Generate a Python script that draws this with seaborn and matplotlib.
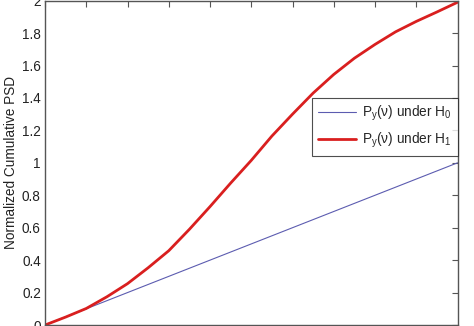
import numpy as np
import pandas as pd
import matplotlib
matplotlib.use("Agg")
import matplotlib.pyplot as plt
import seaborn as sns

# ---- data ----
freq = [0.00, 0.05, 0.10, 0.15, 0.20, 0.25, 0.30, 0.35, 0.40, 0.45, 0.50,
        0.55, 0.60, 0.65, 0.70, 0.75, 0.80, 0.85, 0.90, 0.95, 1.00]
psd_h0 = [0.00, 0.05, 0.10, 0.15, 0.20, 0.25, 0.30, 0.35, 0.40, 0.45, 0.50,
          0.55, 0.60, 0.65, 0.70, 0.75, 0.80, 0.85, 0.90, 0.95, 1.00]
psd_h1 = [0.00, 0.049, 0.102, 0.174, 0.255, 0.353, 0.458, 0.590, 0.730, 0.875, 1.015,
          1.165, 1.300, 1.430, 1.545, 1.645, 1.730, 1.808, 1.872, 1.930, 1.990]
label_h0 = "P$_\\mathregular{y}$(ν) under H$_\\mathregular{0}$"
label_h1 = "P$_\\mathregular{y}$(ν) under H$_\\mathregular{1}$"
ylabel = "Normalized Cumulative PSD"
yticks = [0, 0.2, 0.4, 0.6, 0.8, 1, 1.2, 1.4, 1.6, 1.8, 2]
yticklabels = ["0", "0.2", "0.4", "0.6", "0.8", "1", "1.2", "1.4", "1.6", "1.8", "2"]
xticks = [0, 0.1, 0.2, 0.3, 0.4, 0.5, 0.6, 0.7, 0.8, 0.9, 1.0]

df = pd.DataFrame({
    "freq": freq + freq,
    "psd": psd_h0 + psd_h1,
    "series": [label_h0] * len(freq) + [label_h1] * len(freq),
})

sns.set_theme(style="white")
plt.rcParams["font.family"] = ["Liberation Sans", "DejaVu Sans"]
plt.rcParams["mathtext.fontset"] = "custom"
plt.rcParams["mathtext.rm"] = "Liberation Sans"

fig = plt.figure(figsize=(4.74, 3.26), dpi=100)
ax = fig.add_axes([45 / 474, 0.003, (457.5 - 45) / 474, 0.995])

sns.lineplot(data=df, x="freq", y="psd", hue="series", ax=ax,
             palette={label_h0: "#5c5cb0", label_h1: "#d91f1f"},
             size="series", sizes={label_h0: 0.8, label_h1: 2.0},
             legend=True)

ax.set_xlim(0, 1)
ax.set_ylim(0, 2)
ax.set_xticks(xticks)
ax.set_yticks(yticks)
ax.set_yticklabels(yticklabels)
ax.set_xlabel("")
ax.set_ylabel(ylabel, fontsize=9.8, color="#222222", labelpad=3)
ax.tick_params(axis="both", direction="in", length=4, width=0.8,
               colors="#555555", labelcolor="#222222", labelsize=9.8,
               top=True, right=True, labelbottom=False, pad=3)
for s in ax.spines.values():
    s.set_color("#555555")
    s.set_linewidth(1.0)

leg = ax.legend(loc="upper right", bbox_to_anchor=(1.0, 0.70), borderaxespad=0,
                fontsize=9.8, frameon=True, fancybox=False, handlelength=2.8,
                handletextpad=0.4, labelspacing=0.55, borderpad=0.45)
leg.get_frame().set_edgecolor("#222222")
leg.get_frame().set_linewidth(0.8)
for line, lw in zip(leg.get_lines(), [0.8, 2.0]):
    line.set_linewidth(lw)

fig.savefig("out.png", dpi=100)
